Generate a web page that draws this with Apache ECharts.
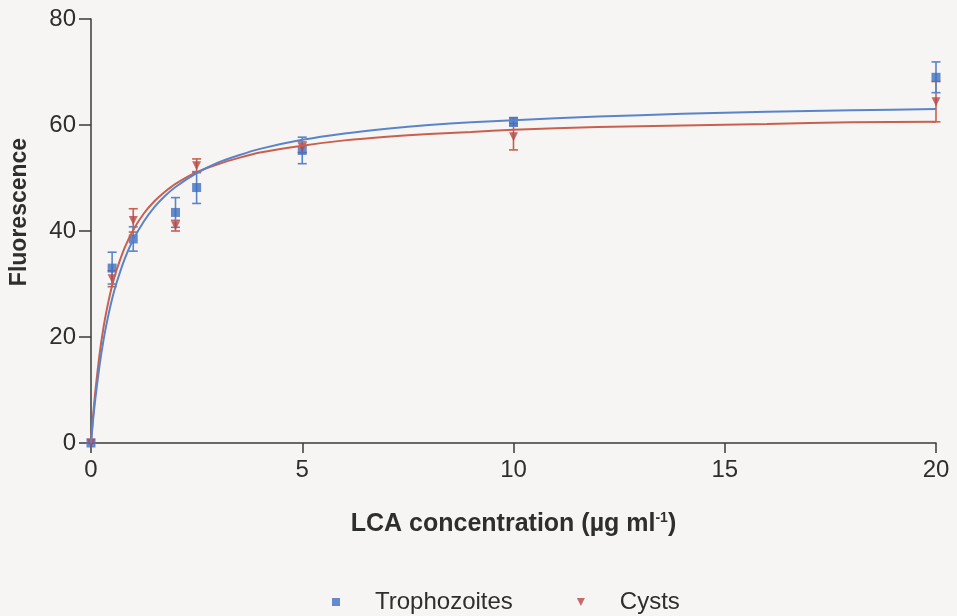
<!DOCTYPE html>
<html>
<head>
<meta charset="utf-8">
<script src="https://cdn.jsdelivr.net/npm/echarts@6/dist/echarts.min.js"></script>
<style>
  html, body { margin: 0; padding: 0; background: #f6f5f3; }
  #chart { width: 957px; height: 616px; }
</style>
</head>
<body>
<div id="chart"></div>
<script>
// LCA concentration (µg/ml) at which fluorescence was measured
const concentrations = [0, 0.5, 1, 2, 2.5, 5, 10, 20];

// Mean fluorescence and error (±) for each cell form
const trophozoiteMean = [0, 33.0, 38.5, 43.5, 48.2, 55.2, 60.6, 69.0];
const trophozoiteErr  = [0, 3.0, 2.3, 2.8, 3.0, 2.5, 0.8, 2.9];
const cystMean = [0, 31.0, 42.0, 41.0, 52.3, 55.8, 57.8, 64.4];
const cystErr  = [0, 1.5, 2.2, 1.0, 1.3, 1.0, 2.5, 3.8];

// Fitted saturation curves, sampled along x
const curveX = [0, 0.05, 0.1, 0.2, 0.3, 0.4, 0.5, 0.6, 0.8, 1, 1.25, 1.5, 1.75, 2, 2.5, 3, 3.5, 4, 5, 6, 7, 8, 9, 10, 12, 14, 16, 18, 20];
const trophozoiteFit = [0, 4.4, 8.2, 14.5, 19.6, 23.7, 27.2, 30.1, 34.8, 38.4, 41.8, 44.5, 46.6, 48.3, 50.9, 52.9, 54.3, 55.5, 57.2, 58.4, 59.3, 60.0, 60.5, 60.9, 61.6, 62.1, 62.5, 62.8, 63.0];
const cystFit = [0, 5.2, 9.6, 16.6, 22.0, 26.2, 29.7, 32.5, 36.9, 40.2, 43.3, 45.6, 47.4, 48.9, 51.1, 52.6, 53.8, 54.8, 56.1, 57.1, 57.8, 58.3, 58.7, 59.1, 59.6, 59.9, 60.2, 60.5, 60.6];

// Axis ticks
const xTicks = [0, 5, 10, 15, 20];
const yTicks = [0, 20, 40, 60, 80];

const blueLine = '#5a84c9';
const blueMark = '#3f6fbf';
const redLine = '#c9604e';
const redMark = '#b8474a';
const axisColor = '#3a3a3a';
const textColor = '#2e2e2e';
const font = '"Liberation Sans", Arial, sans-serif';

const pairs = (xs, ys) => xs.map((x, i) => [x, ys[i]]);
const errRows = (xs, m, e) => xs.map((x, i) => [x, m[i] - e[i], m[i] + e[i]]);

function errorBar(color) {
  return function (params, api) {
    const x = api.value(0);
    const lo = api.coord([x, api.value(1)]);
    const hi = api.coord([x, api.value(2)]);
    const cap = 4.5;
    const style = { stroke: color, lineWidth: 1.6 };
    return {
      type: 'group',
      children: [
        { type: 'line', shape: { x1: lo[0], y1: lo[1], x2: hi[0], y2: hi[1] }, style },
        { type: 'line', shape: { x1: lo[0] - cap, y1: lo[1], x2: lo[0] + cap, y2: lo[1] }, style },
        { type: 'line', shape: { x1: hi[0] - cap, y1: hi[1], x2: hi[0] + cap, y2: hi[1] }, style }
      ]
    };
  };
}

const chart = echarts.init(document.getElementById('chart'));
chart.setOption({
  backgroundColor: '#f6f5f3',
  animation: false,
  textStyle: { fontFamily: font },
  grid: { left: 91, right: 21, top: 19, bottom: 173, containLabel: false },
  legend: {
    top: 585,
    left: 327,
    itemGap: 64,
    itemWidth: 8,
    itemHeight: 8,
    textStyle: { fontSize: 24, color: textColor, fontFamily: font, padding: [0, 0, 0, 30] },
    data: [
      { name: 'Trophozoites', icon: 'rect', itemStyle: { color: blueMark } },
      { name: 'Cysts', icon: 'path://M0,0 L10,0 L5,10 Z', itemStyle: { color: redMark } }
    ]
  },
  xAxis: {
    type: 'value',
    min: xTicks[0],
    max: xTicks[xTicks.length - 1],
    interval: 5,
    name: 'LCA concentration (µg ml{sup|-1})',
    nameLocation: 'middle',
    nameGap: 68,
    nameTextStyle: {
      fontSize: 25, fontWeight: 'bold', color: textColor, fontFamily: font,
      rich: { sup: { fontSize: 14, fontWeight: 'bold', color: textColor, padding: [0, 0, 12, 0] } }
    },
    axisLine: { show: true, onZero: false, lineStyle: { color: axisColor, width: 1.5 } },
    axisTick: { show: true, length: 10, lineStyle: { color: axisColor, width: 1.5 } },
    axisLabel: { fontSize: 24, color: textColor, margin: 15 },
    splitLine: { show: false }
  },
  yAxis: {
    type: 'value',
    min: yTicks[0],
    max: yTicks[yTicks.length - 1],
    interval: 20,
    name: 'Fluorescence',
    nameLocation: 'middle',
    nameGap: 60,
    nameTextStyle: { fontSize: 23, fontWeight: 'bold', color: textColor, fontFamily: font, padding: [0, 0, 0, 38] },
    axisLine: { show: true, lineStyle: { color: axisColor, width: 1.5 } },
    axisTick: { show: true, length: 12, lineStyle: { color: axisColor, width: 1.5 } },
    axisLabel: { fontSize: 24, color: textColor, margin: 15 },
    splitLine: { show: false }
  },
  series: [
    {
      name: 'Trophozoites',
      type: 'scatter',
      symbol: 'rect',
      symbolSize: 9,
      itemStyle: { color: blueMark },
      data: pairs(concentrations, trophozoiteMean),
      z: 4
    },
    {
      name: 'Cysts',
      type: 'scatter',
      symbol: 'triangle',
      symbolRotate: 180,
      symbolSize: 9,
      itemStyle: { color: redMark },
      data: pairs(concentrations, cystMean),
      z: 4
    },
    {
      type: 'custom',
      renderItem: errorBar(redLine),
      data: errRows(concentrations, cystMean, cystErr),
      encode: { x: 0, y: [1, 2] },
      z: 3
    },
    {
      type: 'custom',
      renderItem: errorBar(blueLine),
      data: errRows(concentrations, trophozoiteMean, trophozoiteErr),
      encode: { x: 0, y: [1, 2] },
      z: 3
    },
    {
      type: 'line',
      smooth: 0.2,
      showSymbol: false,
      lineStyle: { color: redLine, width: 2 },
      data: pairs(curveX, cystFit),
      z: 5
    },
    {
      type: 'line',
      smooth: 0.2,
      showSymbol: false,
      lineStyle: { color: blueLine, width: 2 },
      data: pairs(curveX, trophozoiteFit),
      z: 6
    }
  ]
});
</script>
</body>
</html>
